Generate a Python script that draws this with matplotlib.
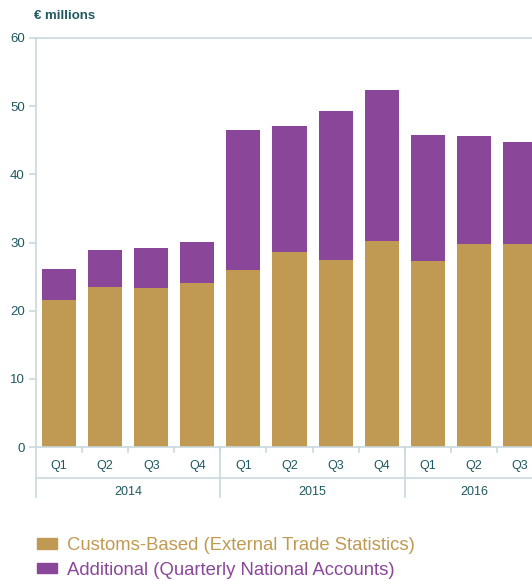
import numpy as np
import matplotlib.pyplot as plt
from matplotlib.patches import Patch

quarters = ["Q1", "Q2", "Q3", "Q4", "Q1", "Q2", "Q3", "Q4", "Q1", "Q2", "Q3"]
years = ["2014", "2015", "2016"]
year_len = [4, 4, 3]
customs = [21.6, 23.5, 23.3, 24.0, 25.9, 28.6, 27.4, 30.2, 27.3, 29.8, 29.8]
total = [26.1, 28.9, 29.2, 30.1, 46.5, 47.1, 49.3, 52.4, 45.8, 45.6, 44.8]
additional = [t - c for t, c in zip(total, customs)]

gold = "#C09A52"
purple = "#8A4799"
txt = "#1E5862"
axc = "#C8D9DE"
font = ["Liberation Sans Narrow", "Liberation Sans", "DejaVu Sans"]
plt.rcParams["font.family"] = font

fig = plt.figure(figsize=(5.32, 5.81), dpi=100)
ax = fig.add_axes([36 / 532, 1 - 447 / 581, 1 - 36 / 532, 409 / 581])

x = np.arange(len(quarters))
ax.bar(x, customs, width=0.74, color=gold, zorder=2)
ax.bar(x, additional, bottom=customs, width=0.74, color=purple, zorder=2)

ax.set_xlim(-0.5, 10.26)
ax.set_ylim(0, 60)
ax.set_yticks(range(0, 61, 10))
ax.tick_params(axis="y", colors=axc, labelcolor=txt, labelsize=9.5, length=5, width=1.2, pad=3)
ax.set_xticks([])
ax.spines["right"].set_visible(False)
for s in ["top", "bottom", "left"]:
    ax.spines[s].set_color(axc)
    ax.spines[s].set_linewidth(1.2)
ax.spines["left"].set_bounds(-7.4, 60)

# quarter ticks and labels
for i, q in enumerate(quarters):
    ax.text(i, -2.8, q, ha="center", va="center", fontsize=9, color=txt, clip_on=False)
    ax.plot([i + 0.5, i + 0.5], [0, -0.8], color=axc, lw=1.2, clip_on=False)

ax.plot([-0.5, 10.26], [-4.55, -4.55], color=axc, lw=1.2, clip_on=False)

start = 0
for y, n in zip(years, year_len):
    ax.text(start - 0.5 + n / 2, -6.6, y, ha="center", va="center", fontsize=9,
            color=txt, clip_on=False)
    end = start + n - 0.5
    if end < 10.26:
        ax.plot([end, end], [0, -7.4], color=axc, lw=1.2, clip_on=False)
    start += n

fig.text(36 / 532 - 0.003, 1 - 16 / 581, "€ millions", ha="left", va="center",
         fontsize=9.5, color=txt, fontweight="bold")

handles = [Patch(color=gold), Patch(color=purple)]
leg = fig.legend(handles, ["Customs-Based (External Trade Statistics)",
                           "Additional (Quarterly National Accounts)"],
                 loc="upper left", bbox_to_anchor=(37 / 532, 1 - 537 / 581),
                 frameon=False, prop={"family": ["Liberation Sans", "DejaVu Sans"], "size": 13.3},
                 handlelength=1.1, handleheight=0.5, handletextpad=0.5, labelspacing=0.42,
                 borderaxespad=0, borderpad=0)
for t, c in zip(leg.get_texts(), [gold, purple]):
    t.set_color(c)

fig.savefig("out.png", dpi=100)
